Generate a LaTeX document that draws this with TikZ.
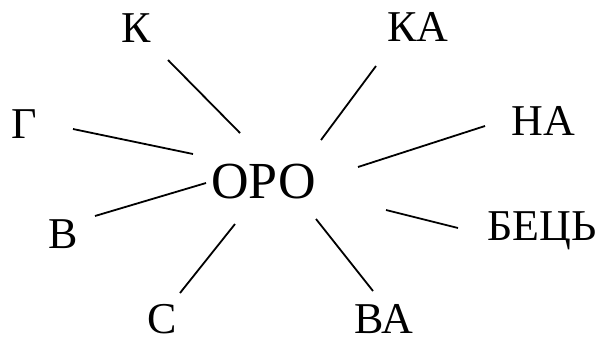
\documentclass[tikz,border=0pt]{standalone}
\usepackage{fontspec}
\newfontfamily\cyrserif{LiberationSerif-Regular.ttf}
\usepackage{tikz}

\begin{document}
\begin{tikzpicture}[x=1pt,y=-1pt,
      part/.style={inner sep=0pt,font=\cyrserif\fontsize{44}{44}\selectfont},
      stem/.style={inner sep=0pt,font=\cyrserif\fontsize{52}{52}\selectfont},
      spoke/.style={line width=1.8pt}]
      \useasboundingbox (0,0) rectangle (604,343);
      \node[stem] (oro) at (263.5,182) {ОРО};
      \node[part] (k)    at (136,28)  {К};
      \node[part] (ka)   at (418,27)  {КА};
      \node[part] (g)    at (24,124)  {Г};
      \node[part] (na)   at (543,121) {НА};
      \node[part] (v)    at (63,234)  {В};
      \node[part] (bets) at (542,231) {БЕЦЬ};
      \node[part] (s)    at (162,319) {С};
      \node[part] (va)   at (384,319) {ВА};
      % spoke ends
      \coordinate (k-a)    at (168,60);  \coordinate (k-b)    at (240,133);
      \coordinate (ka-a)   at (376,66);  \coordinate (ka-b)   at (321,140);
      \coordinate (g-a)    at (73,129);  \coordinate (g-b)    at (193,154);
      \coordinate (na-a)   at (485,126); \coordinate (na-b)   at (358,167);
      \coordinate (v-a)    at (95,216);  \coordinate (v-b)    at (206,183);
      \coordinate (bets-a) at (458,228); \coordinate (bets-b) at (386,210);
      \coordinate (s-a)    at (180,293); \coordinate (s-b)    at (235,224);
      \coordinate (va-a)   at (373,291); \coordinate (va-b)   at (316,219);
      \foreach \p in {k,ka,g,na,v,bets,s,va}
        \draw[spoke] (\p-a) -- (\p-b);
    \end{tikzpicture}
\end{document}
